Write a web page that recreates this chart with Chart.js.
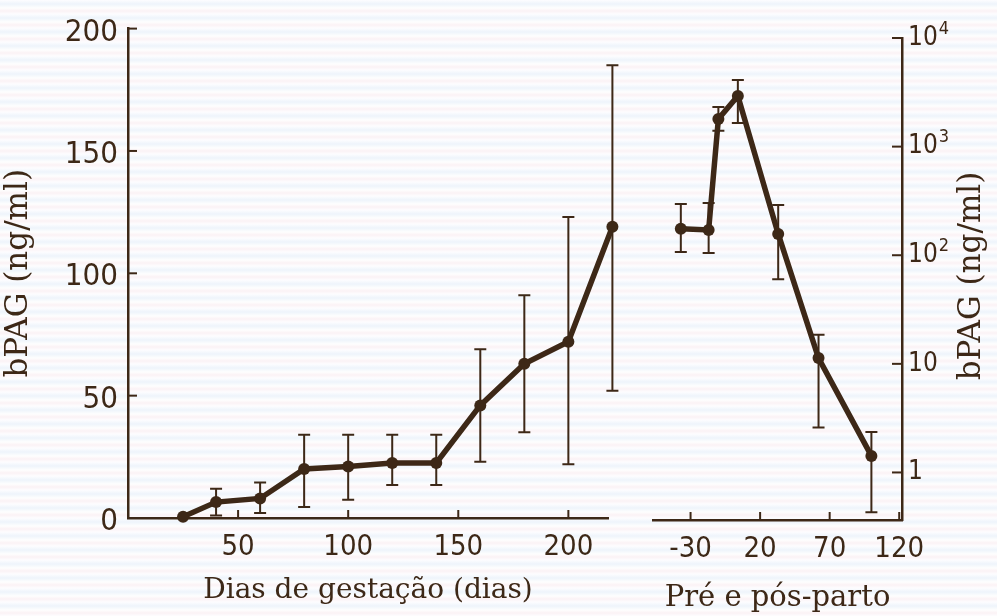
<!DOCTYPE html>
<html>
<head>
<meta charset="utf-8">
<title>bPAG</title>
<script src="https://cdn.jsdelivr.net/npm/chart.js@4.4.0/dist/chart.umd.min.js"></script>
<style>
  html, body { margin: 0; padding: 0; }
  body {
    width: 997px; height: 616px; position: relative; overflow: hidden;
    background: repeating-linear-gradient(to bottom,
      #fdfdff 0px, #eef4fb 4px, #fefefe 8px, #fbf2f5 11px, #fdfdff 14px);
  }
  canvas { position: absolute; top: 0; }
  #gestacao { left: 0; }
  #parto { left: 640px; }
</style>
</head>
<body>
<canvas id="gestacao" width="640" height="616"></canvas>
<canvas id="parto" width="357" height="616"></canvas>
<script>
// gestation panel (linear scale, ng/ml)
const gestDays  = [25, 40, 60, 80, 100, 120, 140, 160, 180, 200, 220];
const gestMean  = [0.5, 6.5, 8, 20, 21, 22.5, 22.5, 46, 63, 72, 119];
const gestLow   = [null, 1, 2, 4.5, 7.5, 13.5, 13.5, 23, 35, 22, 52];
const gestHigh  = [null, 12, 14.5, 34, 34, 34, 34, 69, 91, 123, 185];
const gestXTicks = [50, 100, 150, 200];
const gestYTicks = [0, 50, 100, 150, 200];

// pre/post partum panel (log scale, ng/ml)
const partoDays = [-37, -17, -10, 4, 33, 62, 100];
const partoMean = [175, 171, 1800, 2930, 157, 11.3, 1.42];
const partoLow  = [107, 105, 1400, 1650, 60, 2.6, 0.43];
const partoHigh = [297, 303, 2320, 4110, 290, 18.5, 2.36];
const partoXTicks = [-30, 20, 70, 120];
const partoYTicks = [1, 10, 100, 1000, 10000];

const INK = '#3d2817';
const TICK_FONT = "'DejaVu Sans Condensed', sans-serif";
const TITLE_FONT = "'DejaVu Serif', 'Liberation Serif', serif";

Chart.defaults.color = INK;

// tick marks pointing into the plot
const inwardTicks = {
  id: 'inwardTicks',
  afterDraw(chart) {
    const { ctx, chartArea } = chart;
    ctx.save();
    ctx.strokeStyle = INK;
    ctx.lineWidth = 2;
    Object.values(chart.scales).forEach(scale => {
      scale.ticks.forEach((t, i) => {
        const p = scale.getPixelForTick(i);
        ctx.beginPath();
        if (scale.position === 'bottom') {
          ctx.moveTo(p, chartArea.bottom);
          ctx.lineTo(p, chartArea.bottom - 8);
        } else if (scale.position === 'left') {
          ctx.moveTo(chartArea.left, p);
          ctx.lineTo(chartArea.left + 9, p);
        } else {
          ctx.moveTo(chartArea.right, p);
          ctx.lineTo(chartArea.right - 10, p);
        }
        ctx.stroke();
      });
    });
    ctx.restore();
  }
};

// vertical error bars from errLow / errHigh on each dataset
const errorBars = {
  id: 'errorBars',
  beforeDatasetsDraw(chart) {
    const ctx = chart.ctx;
    chart.data.datasets.forEach(ds => {
      const xs = chart.scales.x, ys = chart.scales.y;
      ctx.save();
      ctx.strokeStyle = INK;
      ctx.lineWidth = 2;
      ds.data.forEach((pt, i) => {
        const lo = ds.errLow[i], hi = ds.errHigh[i];
        if (lo == null) return;
        const x = xs.getPixelForValue(pt.x);
        const y1 = ys.getPixelForValue(lo);
        const y2 = ys.getPixelForValue(hi);
        ctx.beginPath();
        ctx.moveTo(x, y1); ctx.lineTo(x, y2);
        ctx.moveTo(x - 6, y1); ctx.lineTo(x + 6, y1);
        ctx.moveTo(x - 6, y2); ctx.lineTo(x + 6, y2);
        ctx.stroke();
      });
      ctx.restore();
    });
  }
};

// powers of ten on the log axis: Chart.js draws the "10", this adds the exponent
const exponents = {
  id: 'exponents',
  afterDraw(chart) {
    const ctx = chart.ctx, scale = chart.scales.y;
    ctx.save();
    ctx.fillStyle = INK;
    ctx.textBaseline = 'middle';
    ctx.textAlign = 'left';
    ctx.font = '26px ' + TICK_FONT;
    const w = ctx.measureText('10').width;
    const x0 = chart.chartArea.right + scale.options.ticks.padding;
    ctx.font = '18px ' + TICK_FONT;
    scale.ticks.forEach(t => {
      if (t.value < 100) return;
      const y = scale.getPixelForValue(t.value);
      ctx.fillText(String(Math.round(Math.log10(t.value))), x0 + w + 1, y - 9);
    });
    ctx.restore();
  }
};

// right-hand axis title, reading bottom to top
const rightTitle = {
  id: 'rightTitle',
  afterDraw(chart) {
    const ctx = chart.ctx;
    ctx.save();
    ctx.fillStyle = INK;
    ctx.font = '31px ' + TITLE_FONT;
    ctx.textAlign = 'center';
    ctx.textBaseline = 'middle';
    ctx.translate(332, 276);
    ctx.rotate(-Math.PI / 2);
    ctx.fillText('bPAG (ng/ml)', 0, 0);
    ctx.restore();
  }
};

new Chart(document.getElementById('gestacao'), {
  type: 'line',
  data: {
    datasets: [{
      data: gestDays.map((d, i) => ({ x: d, y: gestMean[i] })),
      errLow: gestLow,
      errHigh: gestHigh,
      borderColor: INK,
      backgroundColor: INK,
      borderWidth: 5.5,
      pointRadius: 6,
      pointBorderWidth: 0,
      tension: 0,
      clip: false
    }]
  },
  options: {
    responsive: false,
    animation: false,
    layout: { padding: { top: 25, right: 32, left: 0, bottom: 0 } },
    plugins: { legend: { display: false }, tooltip: { enabled: false } },
    scales: {
      x: {
        type: 'linear', min: 0, max: 218,
        afterBuildTicks: s => { s.ticks = gestXTicks.map(v => ({ value: v })); },
        afterFit: s => { s.height = 98; },
        grid: { display: false, drawTicks: false },
        border: { display: true, color: INK, width: 2.5 },
        ticks: { padding: 12, font: { family: TICK_FONT, size: 29 }, color: INK },
        title: { display: true, text: 'Dias de gestação (dias)', color: INK,
                 font: { family: TITLE_FONT, size: 28 }, padding: { top: 0, bottom: 8 } }
      },
      y: {
        type: 'linear', min: 0, max: 200,
        afterBuildTicks: s => { s.ticks = gestYTicks.map(v => ({ value: v })); },
        afterFit: s => { s.width = 128; },
        grid: { display: false, drawTicks: false },
        border: { display: true, color: INK, width: 2.5 },
        ticks: { padding: 10, labelOffset: 4, font: { family: TICK_FONT, size: 31 }, color: INK },
        title: { display: true, text: 'bPAG (ng/ml)', color: INK,
                 font: { family: TITLE_FONT, size: 31 }, padding: { top: 0, bottom: 12 } }
      }
    }
  },
  plugins: [errorBars, inwardTicks]
});

new Chart(document.getElementById('parto'), {
  type: 'line',
  data: {
    datasets: [{
      data: partoDays.map((d, i) => ({ x: d, y: partoMean[i] })),
      errLow: partoLow,
      errHigh: partoHigh,
      borderColor: INK,
      backgroundColor: INK,
      borderWidth: 5.5,
      pointRadius: 6,
      pointBorderWidth: 0,
      tension: 0,
      clip: false
    }]
  },
  options: {
    responsive: false,
    animation: false,
    layout: { padding: { top: 38, right: 0, left: 13, bottom: 0 } },
    plugins: { legend: { display: false }, tooltip: { enabled: false } },
    scales: {
      x: {
        type: 'linear', min: -57, max: 122,
        afterBuildTicks: s => { s.ticks = partoXTicks.map(v => ({ value: v })); },
        afterFit: s => { s.height = 96; },
        grid: { display: false, drawTicks: false },
        border: { display: true, color: INK, width: 2.5 },
        ticks: { padding: 12, font: { family: TICK_FONT, size: 29 }, color: INK },
        title: { display: true, text: 'Pré e pós-parto', color: INK,
                 font: { family: TITLE_FONT, size: 29 }, padding: { top: 0, bottom: 0 } }
      },
      y: {
        type: 'logarithmic', position: 'right', min: 0.365, max: 10000,
        afterBuildTicks: s => { s.ticks = partoYTicks.map(v => ({ value: v })); },
        afterFit: s => { s.width = 95; },
        grid: { display: false, drawTicks: false },
        border: { display: true, color: INK, width: 2.5 },
        ticks: {
          padding: 6, font: { family: TICK_FONT, size: 26 }, color: INK,
          callback: v => (v >= 100 ? '10' : String(v))
        }
      }
    }
  },
  plugins: [errorBars, inwardTicks, exponents, rightTitle]
});
</script>
</body>
</html>
